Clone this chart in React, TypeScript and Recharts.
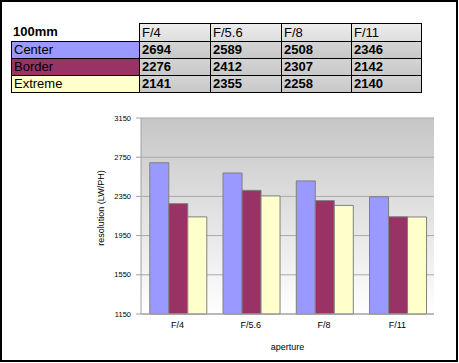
import React from "react";
import { BarChart, Bar, XAxis, YAxis, CartesianGrid } from "recharts";

const apertures = ["F/4", "F/5.6", "F/8", "F/11"];
const center = [2694, 2589, 2508, 2346];
const border = [2276, 2412, 2307, 2142];
const extreme = [2141, 2355, 2258, 2140];
const yTicks = [1150, 1550, 1950, 2350, 2750, 3150];
const edgeTicks = [0, 1, 2, 3, 4];

const series = [
  { key: "center", name: "Center", values: center, color: "#9999ff" },
  { key: "border", name: "Border", values: border, color: "#993366" },
  { key: "extreme", name: "Extreme", values: extreme, color: "#ffffcc" },
];

const data = apertures.map((a, i) => ({
  aperture: a,
  center: center[i],
  border: border[i],
  extreme: extreme[i],
}));

const FONT = '"Liberation Sans", Arial, sans-serif';

// ── Tableau au-dessus du graphique ────────────────────────────────────────────

const COLS = [11, 139, 210, 281, 351, 421];
const ROWS = [23, 41, 58, 75, 92];

function Cell({ col, row, bg, bold, noBorder, children }: {
  col: number; row: number; bg?: string; bold?: boolean; noBorder?: boolean; children: React.ReactNode;
}) {
  return (
    <div
      style={{
        position: "absolute",
        left: COLS[col],
        top: ROWS[row],
        width: COLS[col + 1] - COLS[col] + 1,
        height: ROWS[row + 1] - ROWS[row] + 1,
        boxSizing: "border-box",
        border: noBorder ? "none" : "1px solid #000",
        background: bg ?? "transparent",
        fontWeight: bold ? 700 : 400,
        fontSize: 13,
        lineHeight: `${ROWS[row + 1] - ROWS[row] - 1}px`,
        paddingLeft: 2,
        color: "#000",
        whiteSpace: "nowrap",
        overflow: "hidden",
      }}
    >
      {children}
    </div>
  );
}

function DataTable() {
  return (
    <>
      <Cell col={0} row={0} bold noBorder>100mm</Cell>
      {apertures.map((a, i) => (
        <Cell key={a} col={i + 1} row={0} bg="linear-gradient(#ececec, #dedede)">{a}</Cell>
      ))}
      {series.map((s, r) => (
        <React.Fragment key={s.key}>
          <Cell col={0} row={r + 1} bg={s.color}>{s.name}</Cell>
          {s.values.map((v, i) => (
            <Cell key={i} col={i + 1} row={r + 1} bold bg="linear-gradient(#d4d4d4, #c8c8c8)">{v}</Cell>
          ))}
        </React.Fragment>
      ))}
    </>
  );
}

// ── Label axe Y ───────────────────────────────────────────────────────────────

function YLabel(props: any) {
  const vb = props.viewBox ?? { x: 0, y: 0, width: 0, height: 0 };
  const x = vb.x + 6;
  const y = vb.y + vb.height / 2 - 8;
  return (
    <text x={x} y={y} transform={`rotate(-90 ${x} ${y})`} textAnchor="middle" dominantBaseline="central"
      fontSize={9} fontFamily={FONT} fill="#000">
      resolution (LW/PH)
    </text>
  );
}

export default function App() {
  return (
    <div style={{ position: "absolute", left: 0, top: 0, width: 459, height: 363, background: "#fff", fontFamily: FONT }}>
      <div style={{ position: "absolute", left: 0, top: 0, width: 458, height: 362, boxSizing: "border-box", border: "2px solid #000" }} />
      <DataTable />
      <div style={{ position: "absolute", left: 0, top: 0 }}>
        <BarChart width={459} height={363} data={data}
          margin={{ top: 118, right: 25, bottom: 18, left: 95 }}
          barCategoryGap="12%" barGap={0}>
          <defs>
            <linearGradient id="plotBg" x1="0" y1="0" x2="0" y2="1">
              <stop offset="0" stopColor="#c6c6c6" />
              <stop offset="1" stopColor="#ffffff" />
            </linearGradient>
          </defs>
          <CartesianGrid xAxisId="b" fill="url(#plotBg)" vertical={false} stroke="#a8a8a8" />
          {/* traits de séparation entre catégories */}
          <XAxis xAxisId="a" type="number" domain={[0, 4]} ticks={edgeTicks} height={1}
            tick={false} tickSize={4} tickLine={{ stroke: "#a0a0a0" }} axisLine={{ stroke: "#a0a0a0" }} />
          <XAxis xAxisId="b" dataKey="aperture" height={30} tickLine={false} axisLine={false} tickMargin={1}
            tick={{ fontSize: 9, fill: "#000", fontFamily: FONT }}
            label={{ value: "aperture", position: "bottom", offset: -1, fontSize: 9, fill: "#000", fontFamily: FONT }} />
          <YAxis domain={[1150, 3150]} ticks={yTicks} width={46} interval={0}
            tickSize={5} tickMargin={5} tickLine={{ stroke: "#a0a0a0" }} axisLine={{ stroke: "#a0a0a0" }}
            tick={{ fontSize: 7.5, fill: "#000", fontFamily: FONT }}
            label={<YLabel />} />
          {series.map((s) => (
            <Bar key={s.key} xAxisId="b" dataKey={s.key} name={s.name} fill={s.color}
              stroke="#808080" strokeWidth={1} isAnimationActive={false} />
          ))}
        </BarChart>
      </div>
    </div>
  );
}
